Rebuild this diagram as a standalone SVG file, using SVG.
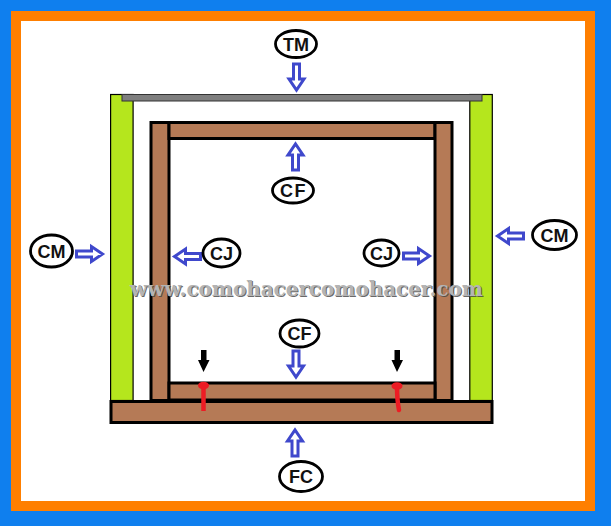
<svg xmlns="http://www.w3.org/2000/svg" width="611" height="526" viewBox="0 0 611 526">
<defs>
<style>
.wood{fill:#b57a56;stroke:#000;stroke-width:3}
.green{fill:#b5e61d;stroke:#000;stroke-width:1.2}
.ar{fill:#fff;stroke:#3f48cc;stroke-width:3;stroke-linejoin:miter}
.el{fill:#fff;stroke:#000;stroke-width:2.800}
.t{font-family:"Liberation Sans",Arial,sans-serif;font-weight:700;font-size:18px;fill:#111;text-anchor:middle}
.mark{font-family:"DejaVu Serif",serif;font-weight:700;font-size:20px}
</style>
<path id="arrow" d="M-13,-3H2V-7.500L13,0L2,7.500V3H-13Z"/>
</defs>
<rect id="bg-blue" width="611" height="526" fill="#0f7fee"/>
<rect id="bg-orange" x="11" y="11" width="584" height="500" fill="#ff7f00"/>
<rect id="bg-white" x="21" y="21" width="564" height="480" fill="#fff"/>
<g id="walls">
<rect class="green" x="110.600" y="94.500" width="22.500" height="306"/>
<rect class="green" x="469.800" y="94.500" width="22.500" height="306"/>
</g>
<g id="top-bar"><rect x="122" y="94.500" width="360" height="6.500" fill="#7f7f7f" stroke="#333" stroke-width="1"/></g>
<g id="frame">
<rect class="wood" x="151" y="122.500" width="18" height="278"/>
<rect class="wood" x="169" y="122.500" width="266" height="16"/>
<rect class="wood" x="435" y="122.500" width="17" height="278"/>
<rect class="wood" x="169" y="383" width="266" height="17"/>
</g>
<g id="base"><rect class="wood" x="111" y="401.500" width="381" height="21"/></g>
<g id="fasteners">
<path d="M203.500,384V411" stroke="#ed1c24" stroke-width="4.500" fill="none"/>
<ellipse cx="203.500" cy="385.500" rx="5.500" ry="3.800" fill="#ed1c24"/>
<path d="M397,386Q397,400 399,410" stroke="#ed1c24" stroke-width="4.500" stroke-linecap="round" fill="none"/>
<ellipse cx="397" cy="386" rx="5.500" ry="3.800" fill="#ed1c24"/>
<path d="M201,350H206.500V360H209.500L203.500,372L198,360H201Z" fill="#000"/>
<path d="M394.500,350H400V360H403L397,372L391.500,360H394.500Z" fill="#000"/>
</g>
<g id="connectors">
<use href="#arrow" class="ar" transform="translate(296.500,77) rotate(90)"/>
<use href="#arrow" class="ar" transform="translate(295.500,157) rotate(-90)"/>
<use href="#arrow" class="ar" transform="translate(89.500,254)"/>
<use href="#arrow" class="ar" transform="translate(187.500,256.500) rotate(180)"/>
<use href="#arrow" class="ar" transform="translate(416.500,256)"/>
<use href="#arrow" class="ar" transform="translate(510.500,236) rotate(180)"/>
<use href="#arrow" class="ar" transform="translate(296,364) rotate(90)"/>
<use href="#arrow" class="ar" transform="translate(295,443) rotate(-90)"/>
</g>
<g id="node-tm"><ellipse class="el" cx="296" cy="44" rx="20.500" ry="13.500"/><text class="t" x="296" y="50.500">TM</text></g>
<g id="node-cf-top"><ellipse class="el" cx="293" cy="190.500" rx="20.500" ry="12.500"/><text class="t" x="293.500" y="197" letter-spacing="1.500">CF</text></g>
<g id="node-cm-left"><ellipse class="el" cx="51.500" cy="251" rx="21" ry="16"/><text class="t" x="51.500" y="257.500">CM</text></g>
<g id="node-cj-left"><ellipse class="el" cx="221.500" cy="253" rx="18.500" ry="14"/><text class="t" x="221.500" y="259.500">CJ</text></g>
<g id="node-cj-right"><ellipse class="el" cx="381.500" cy="253" rx="17.500" ry="13"/><text class="t" x="381.500" y="259.500">CJ</text></g>
<g id="node-cm-right"><ellipse class="el" cx="554.500" cy="235" rx="22" ry="14.500"/><text class="t" x="554.500" y="241.500">CM</text></g>
<g id="node-cf-bottom"><ellipse class="el" cx="299.500" cy="333.500" rx="19.500" ry="13.500"/><text class="t" x="299.500" y="340">CF</text></g>
<g id="node-fc"><ellipse class="el" cx="301" cy="476.500" rx="21.500" ry="15"/><text class="t" x="301" y="483">FC</text></g>
<g id="watermark">
<text class="mark" x="131" y="297" textLength="353" lengthAdjust="spacing" fill="#444" opacity=".8">www.comohacercomohacer.com</text>
<text class="mark" x="130" y="296" textLength="353" lengthAdjust="spacing" fill="#b4b4b4">www.comohacercomohacer.com</text>
</g>
</svg>
